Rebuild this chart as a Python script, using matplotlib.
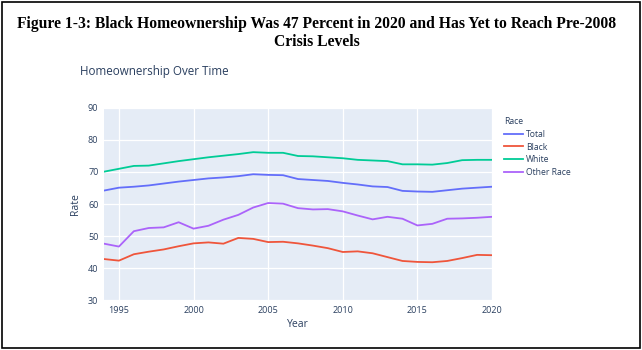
import matplotlib
matplotlib.use("Agg")
import matplotlib.pyplot as plt
from matplotlib.patches import Rectangle

years = list(range(1994, 2021))
total = [64.2, 65.1, 65.4, 65.8, 66.4, 67.0, 67.5, 68.0, 68.3, 68.7, 69.3, 69.1, 69.0,
         67.8, 67.5, 67.2, 66.6, 66.1, 65.5, 65.3, 64.1, 63.9, 63.8, 64.3, 64.8, 65.1, 65.4]
black = [42.8, 42.3, 44.3, 45.1, 45.8, 46.8, 47.7, 48.0, 47.6, 49.4, 49.1, 48.1, 48.2,
         47.7, 47.0, 46.2, 45.0, 45.2, 44.6, 43.4, 42.2, 41.9, 41.8, 42.2, 43.1, 44.1, 44.0]
white = [70.1, 71.0, 71.9, 72.0, 72.7, 73.4, 74.0, 74.6, 75.1, 75.6, 76.2, 76.0, 76.0,
         75.0, 74.9, 74.6, 74.3, 73.8, 73.6, 73.4, 72.4, 72.4, 72.3, 72.8, 73.7, 73.8, 73.8]
other = [47.6, 46.7, 51.5, 52.5, 52.7, 54.3, 52.3, 53.2, 55.1, 56.6, 58.9, 60.3, 60.1,
         58.7, 58.3, 58.4, 57.7, 56.4, 55.2, 56.0, 55.4, 53.3, 53.8, 55.4, 55.5, 55.7, 56.0]
series_names = ["Total", "Black", "White", "Other Race"]
series_values = [total, black, white, other]
colors = ["#636EFA", "#EF553B", "#00CC96", "#AB63FA"]
xticks = [1995, 2000, 2005, 2010, 2015, 2020]
yticks = [30, 40, 50, 60, 70, 80, 90]

W, H = 642, 350
fig = plt.figure(figsize=(W / 100, H / 100), dpi=100)
fig.patch.set_facecolor("white")

# outer black frame
fig.add_artist(Rectangle((2 / W, 2 / H), (W - 4) / W, (H - 4) / H, transform=fig.transFigure,
                         fill=False, edgecolor="black", linewidth=1.2))

serif = ["Liberation Serif", "DejaVu Serif"]
fig.text(316.5 / W, 1 - 24 / H,
         "Figure 1-3: Black Homeownership Was 47 Percent in 2020 and Has Yet to Reach Pre-2008",
         ha="center", va="center", fontsize=11.25, fontweight="bold", family=serif)
fig.text(316.5 / W, 1 - 42 / H, "Crisis Levels", ha="center", va="center",
         fontsize=11.25, fontweight="bold", family=serif)

tc = "#2a3f5f"
sans = ["Open Sans", "DejaVu Sans"]
fig.text(80 / W, 1 - 72 / H, "Homeownership Over Time", ha="left", va="center",
         fontsize=8.4, color=tc, family=sans)

ax = fig.add_axes([104 / W, 50 / H, 388 / W, 192 / H])
ax.set_facecolor("#E5ECF6")
for name, vals, c in zip(series_names, series_values, colors):
    ax.plot(years, vals, color=c, lw=1.3, label=name)
ax.set_xlim(1994, 2020)
ax.set_ylim(30, 90)
ax.set_xticks(xticks)
ax.set_yticks(yticks)
ax.grid(True, color="white", lw=0.9)
ax.set_axisbelow(True)
for s in ax.spines.values():
    s.set_visible(False)
ax.tick_params(length=0, labelsize=6.5, labelcolor=tc, pad=4)
for lab in ax.get_xticklabels() + ax.get_yticklabels():
    lab.set_family(sans)
ax.set_xlabel("Year", fontsize=7.5, color=tc, family=sans, labelpad=3)
ax.set_ylabel("Rate", fontsize=7.5, color=tc, family=sans, labelpad=5)

leg = fig.legend(loc="upper left", bbox_to_anchor=(496 / W, 1 - 109 / H), frameon=False,
                 title="Race", fontsize=6.2, title_fontsize=6.2, handlelength=2.2,
                 handletextpad=0.4, labelspacing=0.45, alignment="left")
for t in leg.get_texts():
    t.set_color(tc)
    t.set_family(sans)
leg.get_title().set_color(tc)
leg.get_title().set_family(sans)

fig.savefig("out.png", dpi=100)
